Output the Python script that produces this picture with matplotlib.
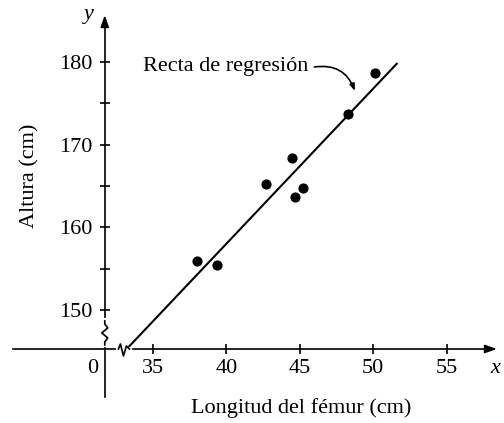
import numpy as np
import matplotlib
matplotlib.use("Agg")
import matplotlib.pyplot as plt

# datos
femur = [38.0, 39.4, 42.7, 44.5, 44.7, 45.2, 48.3, 50.1]
altura = [155.9, 155.5, 165.2, 168.4, 163.7, 164.8, 173.7, 178.7]
x_ticks = [35, 40, 45, 50, 55]
y_ticks = [150, 160, 170, 180]
y_minor = [155, 165, 175]

plt.rcParams['font.family'] = ['Liberation Serif', 'DejaVu Serif']
fs = 16

fig = plt.figure(figsize=(5.04, 4.23), dpi=100)
ax = fig.add_axes([0, 0, 1, 1])
ax.set_xlim(24.6, 58.9)
ax.set_ylim(136.35, 187.5)

x0 = 31.73   # donde esta el eje y
y0 = 145.3   # donde esta el eje x
sx = 14.72   # px por unidad x
sy = 8.27    # px por unidad y

for s in ['top', 'right']:
    ax.spines[s].set_visible(False)
ax.spines['left'].set_position(('data', x0))
ax.spines['bottom'].set_position(('data', y0))
ax.spines['left'].set_bounds(139.5, 185.0)
ax.spines['bottom'].set_bounds(25.5, 58.0)
for s in ['left', 'bottom']:
    ax.spines[s].set_linewidth(1.2)

ax.set_xticks(x_ticks)
ax.set_yticks(y_ticks)
ax.set_yticks(y_minor, minor=True)
ax.tick_params(axis='both', which='both', direction='inout', length=7, width=1.2,
               labelsize=fs)
ax.tick_params(axis='x', pad=4)
ax.tick_params(axis='y', pad=5)
ax.tick_params(axis='y', which='minor', labelleft=False)

# flechas de los ejes
ax.annotate('', xy=(58.6, y0), xytext=(57.5, y0),
            arrowprops=dict(arrowstyle='-|>,head_length=0.7,head_width=0.25', color='black', lw=1.2))
ax.annotate('', xy=(x0, 186.0), xytext=(x0, 184.0),
            arrowprops=dict(arrowstyle='-|>,head_length=0.7,head_width=0.25', color='black', lw=1.2))
ax.text(58.3, y0 - 2.4, 'x', fontsize=fs, style='italic', ha='center', va='center')
ax.text(x0 - 1.1, 185.8, 'y', fontsize=fs, style='italic', ha='center', va='center')
ax.text(x0 - 0.85, y0 - 2.3, '0', fontsize=fs, ha='center', va='center')

# cortes de los ejes
yb = 147.0
ax.plot([x0, x0], [yb - 1.2, yb + 1.8], color='white', lw=3, zorder=3)
ax.plot(x0 + np.array([0, 0, 3, -3, 3, 0, 0]) / sx,
        yb + np.array([14, 11, 7, 2, -3, -7, -10]) / sy,
        color='black', lw=1.2, zorder=4, solid_joinstyle='round')
xb = 33.0
ax.plot([xb - 0.35, xb + 0.45], [y0, y0], color='white', lw=3, zorder=3)
ax.plot(xb + np.array([-5, -3, 0, 3, 6]) / sx,
        y0 + np.array([0, 5, -7, 3, 0]) / sy,
        color='black', lw=1.2, zorder=4, solid_joinstyle='round')

# recta de regresion
m, b = np.polyfit(femur, altura, 1)
xs = np.array([(y0 - b) / m, 51.6])
ax.plot(xs, m * xs + b, color='black', lw=1.5, zorder=2)

ax.scatter(femur, altura, s=40, color='black', zorder=5)

ax.text(45.6, 179.4, 'Recta de regresión', fontsize=fs, ha='right', va='center')
ax.annotate('', xy=(48.75, 176.5), xytext=(46.0, 179.4),
            arrowprops=dict(arrowstyle='-|>,head_length=0.4,head_width=0.15', color='black',
                            lw=1.2, connectionstyle='arc3,rad=-0.4', shrinkA=0, shrinkB=0))

ax.text(45.1, 138.2, 'Longitud del fémur (cm)', fontsize=fs, ha='center', va='center')
ax.text(26.6, 166.2, 'Altura (cm)', fontsize=fs, ha='center', va='center', rotation=90)

fig.savefig('out.png', dpi=100)
